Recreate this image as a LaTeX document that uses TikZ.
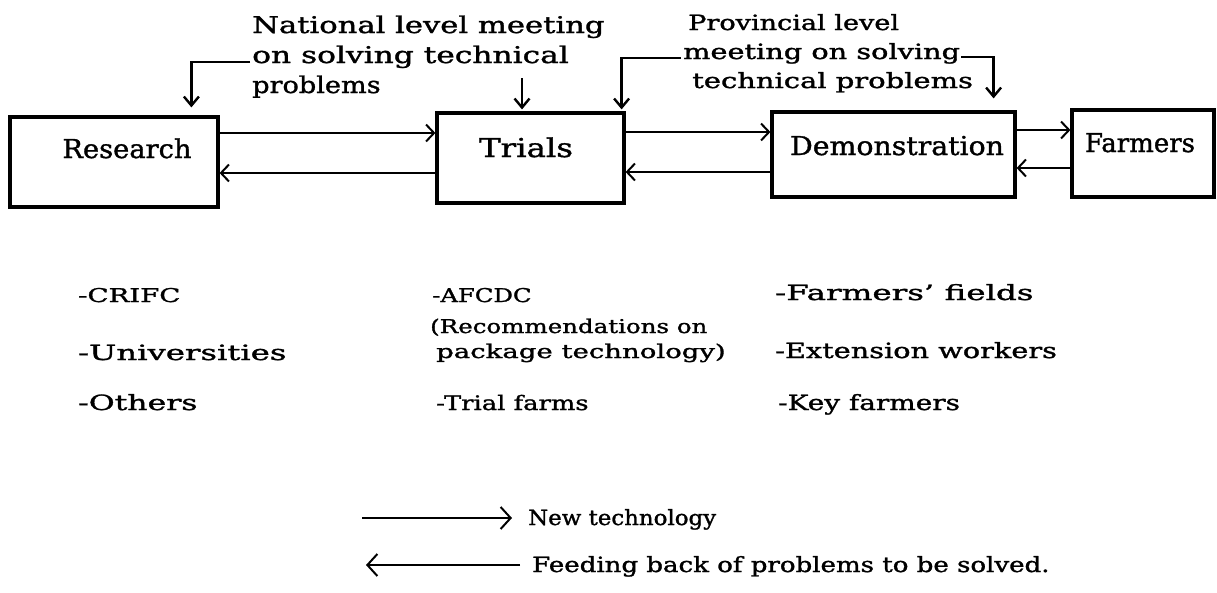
\documentclass[tikz,border=0pt]{standalone}
\usepackage{fontspec}
\usepackage{graphicx}
\setmainfont{DejaVu Serif}[FakeBold=1.2]
\usetikzlibrary{arrows.meta}
\newcommand{\tx}[3]{{\fontsize{#1}{#1}\selectfont\scalebox{#2}[1]{#3}}}
\begin{document}
\begin{tikzpicture}[x=1pt,y=-1pt,
  box/.style={draw, line width=3.2pt, rectangle, inner sep=0pt},
  lab/.style={inner sep=0pt, anchor=base},
  txt/.style={inner sep=0pt, anchor=base west},
  arr/.style={line width=2pt, -{Straight Barb[length=8pt,width=17pt,line width=2pt]}},
  brk/.style={line width=2.4pt, -{Straight Barb[length=9pt,width=15pt,line width=2.4pt]}},
  leg/.style={line width=1.8pt, -{Straight Barb[length=10pt,width=22pt,line width=2pt]}}]
\fill[white] (0,0) rectangle (1217,592);
\useasboundingbox (0,0) rectangle (1217,592);

% boxes
\node[box, minimum width=208pt, minimum height=90pt] (R) at (114,162) {};
\node[box, minimum width=187pt, minimum height=90pt] (T) at (530.5,158) {};
\node[box, minimum width=243pt, minimum height=85pt] (D) at (893.5,154.5) {};
\node[box, minimum width=142pt, minimum height=87pt] (F) at (1143,153.5) {};

\node[lab] (Rt) at (127,158) {\tx{26}{1.05}{Research}};
\node[lab] (Tt) at (526,157) {\tx{26}{1.25}{Trials}};
\node[lab] (Dt) at (897,155) {\tx{26}{1.09}{Demonstration}};
\node[lab] (Ft) at (1140,152) {\tx{26}{1.0}{Farmers}};

% flows between boxes
\draw[arr] (R.east |- 0,133) -- (T.west |- 0,133);
\draw[arr] (T.west |- 0,173) -- (R.east |- 0,173);
\draw[arr] (T.east |- 0,132) -- (D.west |- 0,132);
\draw[arr] (D.west |- 0,172) -- (T.east |- 0,172);
\draw[arr] (D.east |- 0,130) -- (F.west |- 0,130);
\draw[arr] (F.west |- 0,168) -- (D.east |- 0,168);

% titles
\node[txt] (t1a) at (252,33) {\tx{23}{1.33}{National level meeting}};
\node[txt] (t1b) at (252,63) {\tx{23}{1.36}{on solving technical}};
\node[txt] (t1c) at (252,93) {\tx{23}{1.18}{problems}};

\node[txt] (t2a) at (688,30) {\tx{21}{1.29}{Provincial level}};
\node[txt] (t2b) at (683,59) {\tx{21}{1.37}{meeting on solving}};
\node[txt] (t2c) at (692,88) {\tx{21}{1.38}{technical problems}};

% meeting brackets
\draw[brk, shorten >=8pt] ([xshift=-2pt,yshift=1pt]t1b.base west) -| ([xshift=183pt]R.north west);
\coordinate (tc) at (522,78);
\draw[brk, shorten >=2pt] (tc) -- (tc |- T.north);
\draw[brk, shorten >=2pt] ([xshift=-2pt,yshift=1pt]t2b.base west) -| ([xshift=-4pt]T.north east);
\draw[brk] ([xshift=1pt,yshift=2pt]t2b.base east) -| ([xshift=-23pt,yshift=12pt]D.north east);

% lists
\node[txt] (c1a) at (78,302) {\tx{19}{1.45}{-CRIFC}};
\node[txt] (c1b) at (78,360) {\tx{21}{1.54}{-Universities}};
\node[txt] (c1c) at (78,410) {\tx{21}{1.5}{-Others}};

\node[txt] (c2a) at (432,302) {\tx{19}{1.28}{-AFCDC}};
\node[txt] (c2b) at (430,333) {\tx{19}{1.29}{(Recommendations on}};
\node[txt] (c2c) at (436,358) {\tx{19}{1.45}{package technology)}};
\node[txt] (c2d) at (436,410) {\tx{20}{1.29}{-Trial farms}};

\node[txt] (c3a) at (775,300) {\tx{21}{1.55}{-Farmers' fields}};
\node[txt] (c3b) at (775,358) {\tx{21}{1.37}{-Extension workers}};
\node[txt] (c3c) at (778,410) {\tx{21}{1.33}{-Key farmers}};

% legend
\node[txt] (L1) at (528,525) {\tx{21}{1.09}{New technology}};
\node[txt] (L2) at (532,572) {\tx{21}{1.24}{Feeding back of problems to be solved.}};
\coordinate (l1s) at (362,518);
\coordinate (l2e) at (366,565);
\draw[leg] (l1s) -- ([xshift=-16pt]L1.base west |- l1s);
\draw[leg] ([xshift=-12pt]L2.base west |- l2e) -- (l2e);
\end{tikzpicture}
\end{document}
